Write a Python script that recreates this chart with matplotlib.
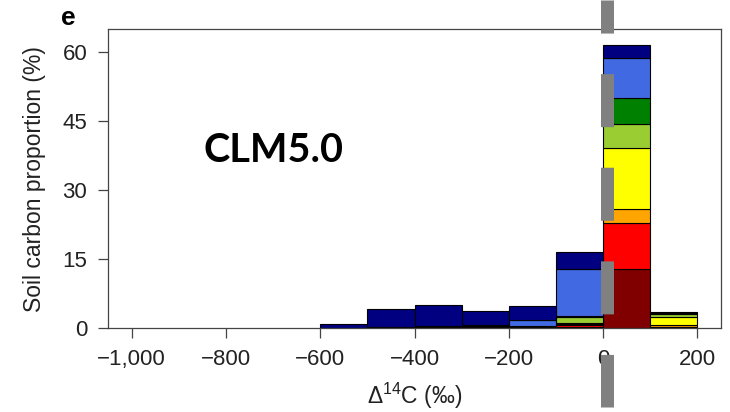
import matplotlib
matplotlib.use("Agg")
import matplotlib.pyplot as plt
import numpy as np
from matplotlib.lines import Line2D
from matplotlib.ticker import FuncFormatter

plt.rcParams['font.family'] = ['Liberation Sans', 'DejaVu Sans']
plt.rcParams['mathtext.default'] = 'regular'
plt.rcParams['lines.scale_dashes'] = False

# bin left edges of the Delta14C histogram (per mil), width 100
bin_left = [-600, -500, -400, -300, -200, -100, 0, 100]
bin_width = 100

# stacked layers, bottom to top (soil carbon proportion, %)
darkred     = [0.02, 0.03, 0.04, 0.07, 0.05, 0.20, 12.8, 0.15]
red         = [0.01, 0.02, 0.03, 0.05, 0.05, 0.35, 10.1, 0.15]
orange      = [0.01, 0.02, 0.03, 0.05, 0.03, 0.30, 3.0, 0.25]
yellow      = [0.01, 0.02, 0.03, 0.05, 0.05, 0.30, 13.3, 1.85]
yellowgreen = [0.01, 0.03, 0.04, 0.10, 0.10, 1.20, 5.1, 0.65]
green       = [0.01, 0.02, 0.03, 0.05, 0.07, 0.35, 5.8, 0.15]
royalblue   = [0.03, 0.15, 0.15, 0.20, 1.30, 10.05, 8.6, 0.15]
navy        = [0.77, 3.84, 4.58, 3.20, 3.05, 3.75, 2.8, 0.15]

layers = [darkred, red, orange, yellow, yellowgreen, green, royalblue, navy]
layer_colors = ['#800000', '#ff0000', '#ffa500', '#ffff00',
                '#9acd32', '#008000', '#4169e1', '#000080']

xticks = [-1000, -800, -600, -400, -200, 0, 200]
yticks = [0, 15, 30, 45, 60]

fig = plt.figure(figsize=(7.3, 4.12), dpi=100)
ax = fig.add_axes([108/730, 1 - 328/412, (721 - 108)/730, (328 - 29.3)/412])

bottom = np.zeros(len(bin_left))
for vals, col in zip(layers, layer_colors):
    ax.bar(bin_left, vals, width=bin_width, bottom=bottom, align='edge',
           color=col, edgecolor='black', linewidth=0.8, zorder=2)
    bottom += np.array(vals)

ax.set_xlim(-1050, 250)
ax.set_ylim(0, 65)
ax.set_xticks(xticks)
ax.set_yticks(yticks)
ax.xaxis.set_major_formatter(FuncFormatter(lambda v, p: f"{v:,.0f}".replace('-', '\u2212')))

for s in ax.spines.values():
    s.set_color('#444444')
    s.set_linewidth(0.9)
ax.tick_params(axis='both', direction='out', length=7, width=0.9, color='#444444',
               labelsize=16, labelcolor='#222222')
ax.tick_params(axis='y', pad=8)
ax.tick_params(axis='x', pad=8)

ax.set_ylabel('Soil carbon proportion (%)', fontsize=16.5, color='#222222', labelpad=12)
ax.set_xlabel('Δ$^{14}$C (‰)', fontsize=16.5, color='#222222', labelpad=8)

fig.text(61/730, 1 - 25/412, 'e', fontsize=19, fontweight='bold', color='black')
fig.text(203/730, 1 - 162/412, 'CLM5.0', fontsize=28.5, fontweight='bold',
         family=['Lato', 'DejaVu Sans'], color='black')

# grey dashed marker drawn over the panel
gx = 607.3/730
fig.add_artist(Line2D([gx, gx], [1.0, 1 - 407/412], color='#808080',
                      linewidth=13*0.72, linestyle=(14.4, (38.2, 29.2)),
                      solid_capstyle='butt', dash_capstyle='butt', zorder=10))

fig.savefig('out.png', dpi=100)
